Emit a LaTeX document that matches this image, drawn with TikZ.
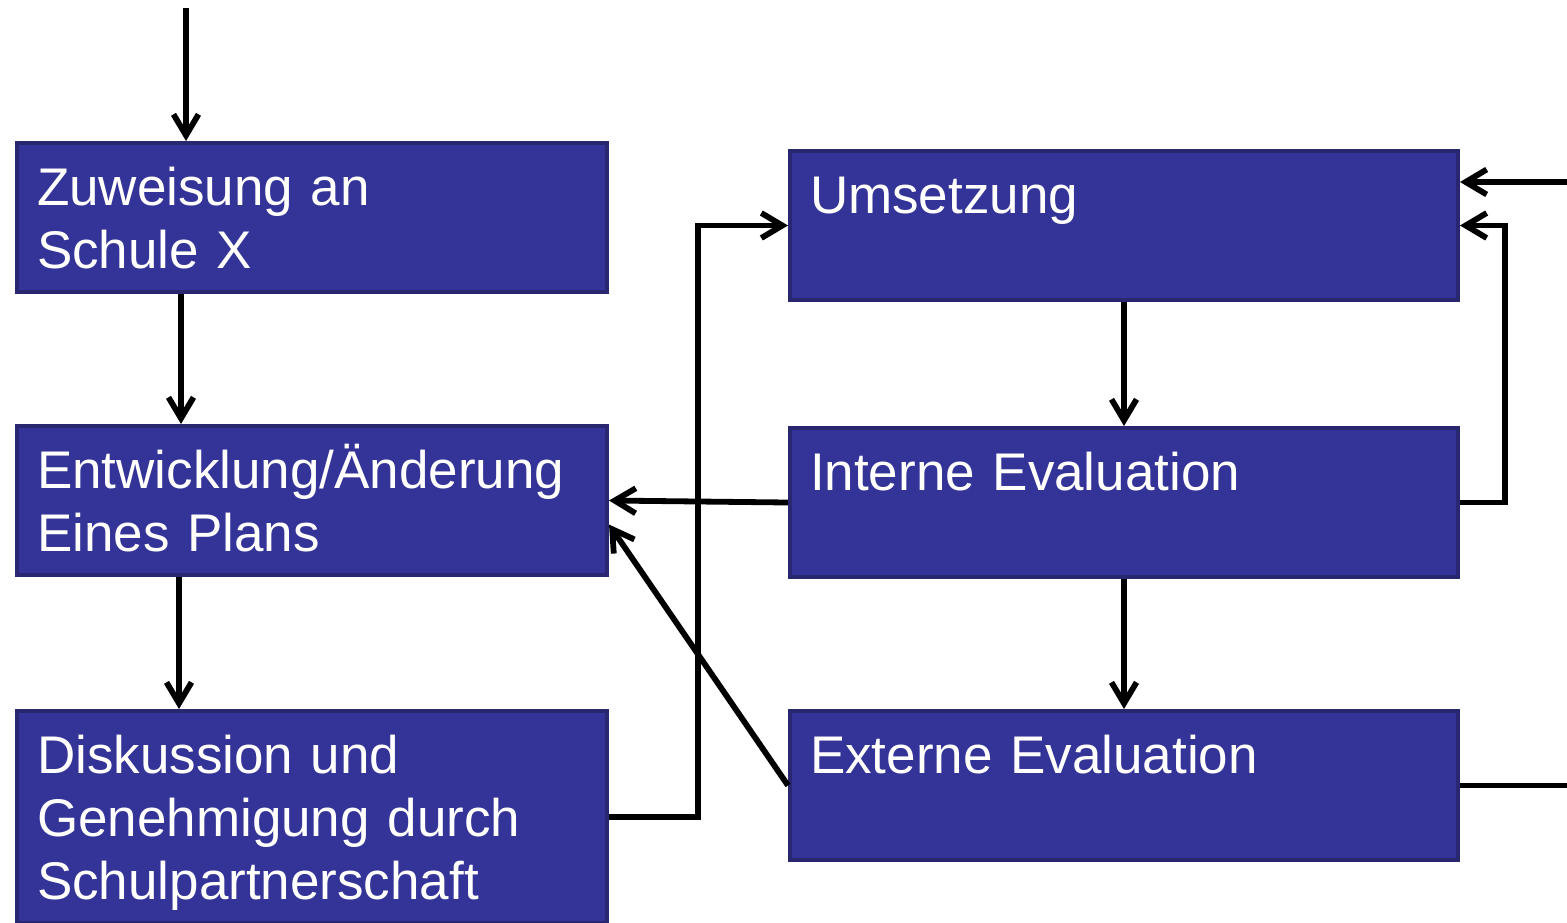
\documentclass[tikz,border=0pt]{standalone}
\usepackage{fontspec}
\setmainfont{Liberation Sans}
\usetikzlibrary{arrows.meta}
\definecolor{boxfill}{RGB}{52,51,151}
\definecolor{boxline}{RGB}{40,39,112}

\begin{document}
\begin{tikzpicture}[x=0.5pt,y=-0.5pt,>={Straight Barb[length=10.5pt,width=12.5pt]},line width=2.9pt]
	\tikzstyle{stage}=[draw=boxline, fill=boxfill, line width=2pt, text=white, font=\fontsize{26.5}{31.5}\selectfont, anchor=north west, align=left, inner xsep=10pt, inner ysep=0pt, text height=31pt, text depth=43.5pt]
	\tikzstyle{links}=[stage, text width=275pt]
	\tikzstyle{rechts}=[stage, text width=314pt]

	\clip (0,0) rectangle (1567,922);

	\node [links] (zuweisung) at (15,141) {Zuweisung an\\Schule X};
	\node [links] (entwicklung) at (15,424) {Entwicklung/Änderung\\Eines Plans};
	\node [links, text depth=75pt] (diskussion) at (15,709) {Diskussion und\\Genehmigung durch\\Schulpartnerschaft};
	\node [rechts] (umsetzung) at (788,149) {Umsetzung};
	\node [rechts] (intern) at (788,426) {Interne Evaluation};
	\node [rechts] (extern) at (788,709) {Externe Evaluation};

	\coordinate (start) at (186,8);
	\coordinate (ein) at (1567,182);
	\coordinate (rand) at (1567,0);
	\coordinate (s1) at (181,0);
	\coordinate (s2) at (179,0);
	\coordinate (knick) at (698,0);
	\coordinate (schleife) at (1505,0);

	\draw[->] (start) -- (start |- zuweisung.north);
	\draw[->] (zuweisung.south -| s1) -- (entwicklung.north -| s1);
	\draw[->] (entwicklung.south -| s2) -- (diskussion.north -| s2);
	\draw[->] (umsetzung.south) -- (intern.north);
	\draw[->] (intern.south) -- (extern.north);
	\draw[->] (intern.west) -- (entwicklung.east);
	\draw[->] (extern.west) -- ([yshift=-12pt]entwicklung.east);
	\draw (extern.east) -- (extern.east -| rand);
	\draw[->] (ein) -- (ein -| umsetzung.east);
	\draw[->] (intern.east) -- (intern.east -| schleife) |- (umsetzung.east);
	\draw[->] (diskussion.east) -- (diskussion.east -| knick) |- (umsetzung.west);
\end{tikzpicture}
\end{document}
